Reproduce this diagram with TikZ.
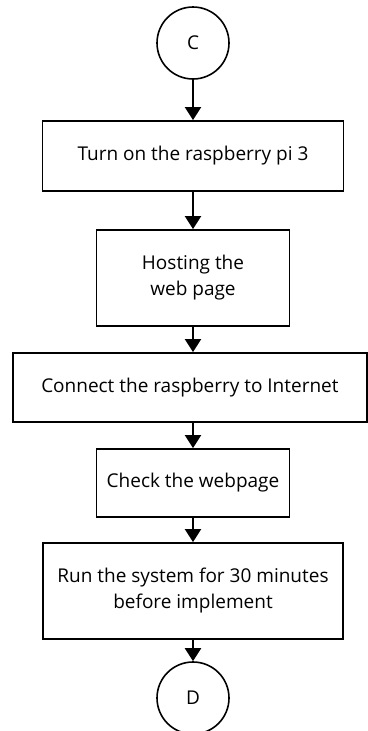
\documentclass[tikz,border=0pt]{standalone}
\usepackage{fontspec}
\setmainfont{Open Sans}
\usetikzlibrary{arrows.meta}

\begin{document}
\begin{tikzpicture}[x=1pt,y=-1pt,
    every node/.style={font=\fontsize{19}{26}\selectfont},
    blk/.style={draw,line width=1.8pt,align=center,inner sep=0pt},
    con/.style={draw,circle,line width=1.6pt,minimum size=72pt,inner sep=0pt},
    flow/.style={-{Triangle[length=13pt,width=16pt]},line width=2pt}]
                \useasboundingbox (0,0) rectangle (367,731);
                \node[con] (c) at (193,43) {C};
                \node[blk,minimum width=301pt,minimum height=70pt] (t1) at (193,156) {Turn on the raspberry pi 3};
                \node[blk,minimum width=193pt,minimum height=96pt] (t2) at (193,278) {Hosting the\\web page};
                \node[blk,minimum width=354pt,minimum height=69pt,anchor=west] (t3) at (12,387.5) {Connect the raspberry to Internet};
                \node[blk,minimum width=193pt,minimum height=68pt] (t4) at (193,483) {Check the webpage};
                \node[blk,minimum width=300pt,minimum height=96pt] (t5) at (193,591) {Run the system for 30 minutes\\before implement};
                \node[con] (d) at (193,698) {D};
                \draw[flow] (c)--(t1);
                \draw[flow] (t1)--(t2);
                \draw[flow] (t2.south)--(t2.south|-t3.north);
                \draw[flow] (t4.north|-t3.south)--(t4.north);
                \draw[flow] (t4)--(t5);
                \draw[flow] (t5)--(d);
\end{tikzpicture}
\end{document}
